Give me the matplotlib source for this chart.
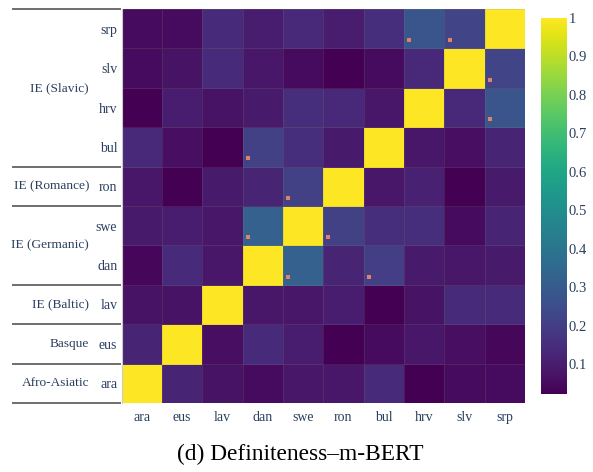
import numpy as np
import matplotlib
matplotlib.use("Agg")
import matplotlib.pyplot as plt
from matplotlib.transforms import blended_transform_factory

# languages, bottom row first (same order along x)
langs = ['ara', 'eus', 'lav', 'dan', 'swe', 'ron', 'bul', 'hrv', 'slv', 'srp']

# family groups: (label, first row, last row)
groups = [('Afro-Asiatic', 0, 0),
          ('Basque', 1, 1),
          ('IE (Baltic)', 2, 2),
          ('IE (Germanic)', 3, 4),
          ('IE (Romance)', 5, 5),
          ('IE (Slavic)', 6, 9)]

# similarity matrix, rows ara..srp (bottom to top), cols ara..srp
sim_ara = [1.00, 0.12, 0.07, 0.05, 0.08, 0.08, 0.14, 0.02, 0.05, 0.05]
sim_eus = [0.12, 1.00, 0.06, 0.14, 0.10, 0.02, 0.05, 0.08, 0.06, 0.04]
sim_lav = [0.07, 0.07, 1.00, 0.08, 0.08, 0.10, 0.02, 0.07, 0.14, 0.14]
sim_dan = [0.04, 0.14, 0.08, 1.00, 0.32, 0.12, 0.20, 0.09, 0.08, 0.09]
sim_swe = [0.09, 0.10, 0.08, 0.32, 1.00, 0.21, 0.15, 0.15, 0.05, 0.12]
sim_ron = [0.08, 0.02, 0.09, 0.12, 0.21, 1.00, 0.08, 0.11, 0.02, 0.09]
sim_bul = [0.13, 0.06, 0.02, 0.21, 0.15, 0.09, 1.00, 0.08, 0.06, 0.12]
sim_hrv = [0.02, 0.10, 0.07, 0.09, 0.15, 0.13, 0.08, 1.00, 0.13, 0.28]
sim_slv = [0.05, 0.07, 0.14, 0.08, 0.05, 0.02, 0.05, 0.13, 1.00, 0.22]
sim_srp = [0.05, 0.05, 0.14, 0.10, 0.13, 0.10, 0.15, 0.28, 0.22, 1.00]

# highlighted (row, col) pairs
marked = [('srp', 'hrv'), ('srp', 'slv'), ('slv', 'srp'), ('hrv', 'srp'),
          ('bul', 'dan'), ('ron', 'swe'), ('swe', 'dan'), ('swe', 'ron'),
          ('dan', 'swe'), ('dan', 'bul')]

cbar_ticks = [0.1, 0.2, 0.3, 0.4, 0.5, 0.6, 0.7, 0.8, 0.9, 1.0]

M = np.array([sim_ara, sim_eus, sim_lav, sim_dan, sim_swe,
              sim_ron, sim_bul, sim_hrv, sim_slv, sim_srp])

txt_col = '#2a3f5f'
plt.rcParams['font.family'] = ['Liberation Serif', 'DejaVu Serif']

fig = plt.figure(figsize=(5.93, 4.72), dpi=100)
ax = fig.add_axes([0.2049, 0.1462, 0.6804, 0.8347])
cax = fig.add_axes([0.9123, 0.1653, 0.0438, 0.7966])

edges = np.arange(len(langs) + 1) - 0.5
mesh = ax.pcolormesh(edges, edges, M, cmap='viridis', vmin=0.022, vmax=1.0,
                     edgecolors=(0.55, 0.55, 0.45, 0.18), linewidth=0.4)
ax.set_xlim(-0.5, len(langs) - 0.5)
ax.set_ylim(-0.5, len(langs) - 0.5)

# small square markers near the lower-left of flagged cells
mx = [langs.index(c) - 0.37 for r, c in marked]
my = [langs.index(r) - 0.29 for r, c in marked]
ax.plot(mx, my, 's', color='#ec8468', markersize=3.2, markeredgewidth=0, alpha=0.95)

ax.set_xticks(range(len(langs)))
ax.set_xticklabels(langs)
ax.set_yticks(range(len(langs)))
ax.set_yticklabels(langs)
ax.tick_params(length=0, labelsize=10, labelcolor=txt_col)
ax.tick_params(axis='x', pad=6)
ax.tick_params(axis='y', pad=3)
for s in ['top', 'right', 'bottom']:
    ax.spines[s].set_visible(False)
ax.spines['left'].set_color('#cccccc')
ax.spines['left'].set_linewidth(0.8)

# group labels and separator lines on the left
tr = blended_transform_factory(fig.transFigure, ax.transData)
x0, x1 = 12 / 593, 121 / 593
for name, lo, hi in groups:
    ax.text(89 / 593, (lo + hi) / 2, name, transform=tr, ha='right', va='center',
            fontsize=9.6, color=txt_col)
bounds = [-0.5] + [hi + 0.5 for name, lo, hi in groups]
for b in bounds:
    ax.plot([x0, x1], [b, b], transform=tr, color='#555555', lw=1.2,
            clip_on=False, solid_capstyle='butt')

cb = fig.colorbar(mesh, cax=cax, ticks=cbar_ticks)
cb.outline.set_visible(False)
cb.ax.set_yticklabels(['0.1', '0.2', '0.3', '0.4', '0.5', '0.6', '0.7', '0.8', '0.9', '1'])
cb.ax.tick_params(length=0, labelsize=10.5, labelcolor=txt_col, pad=1)

fig.text(0.507, 0.038, '(d) Definiteness\u2013m-BERT', ha='center', va='center',
         fontsize=16.8, color='black')

fig.savefig('out.png', dpi=100)
